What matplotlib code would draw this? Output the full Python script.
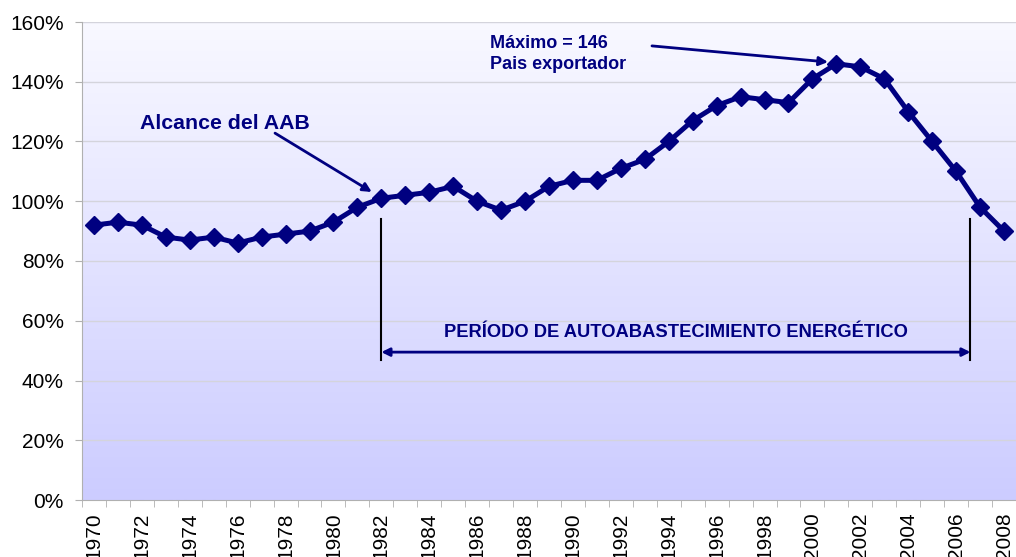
import numpy as np
import matplotlib.pyplot as plt
from matplotlib.ticker import FuncFormatter

plt.rcParams['font.family'] = ['Liberation Sans', 'DejaVu Sans']

# =============================
# DATA
# =============================
years = list(range(1970, 2009))
alcance = [92, 93, 92, 88, 87, 88, 86, 88, 89, 90, 93, 98, 101, 102, 103, 105,
           100, 97, 100, 105, 107, 107, 111, 114, 120, 127, 132, 135, 134, 133,
           141, 146, 145, 141, 130, 120, 110, 98, 90]
y_ticks = [0, 20, 40, 60, 80, 100, 120, 140, 160]

NAVY = "#000080"

fig = plt.figure(figsize=(10.16, 5.57), dpi=100)
ax = fig.add_axes([82 / 1016, 1 - 500 / 557, 934 / 1016, 478 / 557])

x = np.arange(len(years))
ax.set_xlim(-0.5, len(years) - 0.5)
ax.set_ylim(0, 160)

# gradient background (light at top, lavender at bottom)
grad = np.linspace(0, 1, 256).reshape(-1, 1)
top = np.array([0.975, 0.975, 1.0])
bot = np.array([0.80, 0.80, 1.0])
img = top + (bot - top) * grad[:, :, None]
ax.imshow(img, extent=[-0.5, len(years) - 0.5, 0, 160], origin="upper",
          aspect="auto", zorder=0)

for t in y_ticks[1:]:
    ax.axhline(t, color="#D4D4DC", lw=1, zorder=1)

ax.plot(x, alcance, color=NAVY, lw=3.6, marker="D", markersize=9, zorder=4)

# axes styling
for s in ["top", "right"]:
    ax.spines[s].set_visible(False)
for s in ["left", "bottom"]:
    ax.spines[s].set_color("#B0B0B0")
ax.set_yticks(y_ticks)
ax.yaxis.set_major_formatter(FuncFormatter(lambda v, p: f"{int(v)}%"))
ax.tick_params(axis="y", colors="#B0B0B0", labelcolor="black", labelsize=15,
               length=5, pad=8)
ax.set_xticks(np.arange(-0.5, len(years), 1), minor=True)
ax.set_xticks(x[::2])
ax.set_xticklabels([str(y) for y in years[::2]], rotation=90, fontsize=15)
ax.tick_params(axis="x", which="major", length=0, pad=9)
ax.tick_params(axis="x", which="minor", colors="#B0B0B0", length=5)

# annotations
arrow_kw = dict(arrowstyle="-|>", color=NAVY, lw=2, shrinkA=0, shrinkB=0,
                mutation_scale=13)
ax.text(1.92, 126.0, "Alcance del AAB", fontsize=15.3, fontweight="bold",
        color=NAVY, va="center")
ax.annotate("", xy=(11.6, 103.1), xytext=(7.56, 122.8), arrowprops=arrow_kw)

ax.text(16.53, 149.2, "Máximo = 146\nPais exportador", fontsize=13,
        fontweight="bold", color=NAVY, va="center", linespacing=1.3)
ax.annotate("", xy=(30.65, 146.6), xytext=(23.3, 152.0), arrowprops=arrow_kw)

x_start, x_end = 12, 36.6
ax.plot([x_start, x_start], [47, 94], color="black", lw=1.5, zorder=3)
ax.plot([x_end, x_end], [47, 94], color="black", lw=1.5, zorder=3)
ax.annotate("", xy=(x_end, 49.5), xytext=(x_start, 49.5),
            arrowprops=dict(arrowstyle="<|-|>", color=NAVY, lw=2,
                            shrinkA=0, shrinkB=0, mutation_scale=12))
ax.text((x_start + x_end) / 2, 56, "PERÍODO DE AUTOABASTECIMIENTO ENERGÉTICO",
        ha="center", va="center", fontsize=13.2, fontweight="bold", color=NAVY)

fig.savefig("out.png", dpi=100)
